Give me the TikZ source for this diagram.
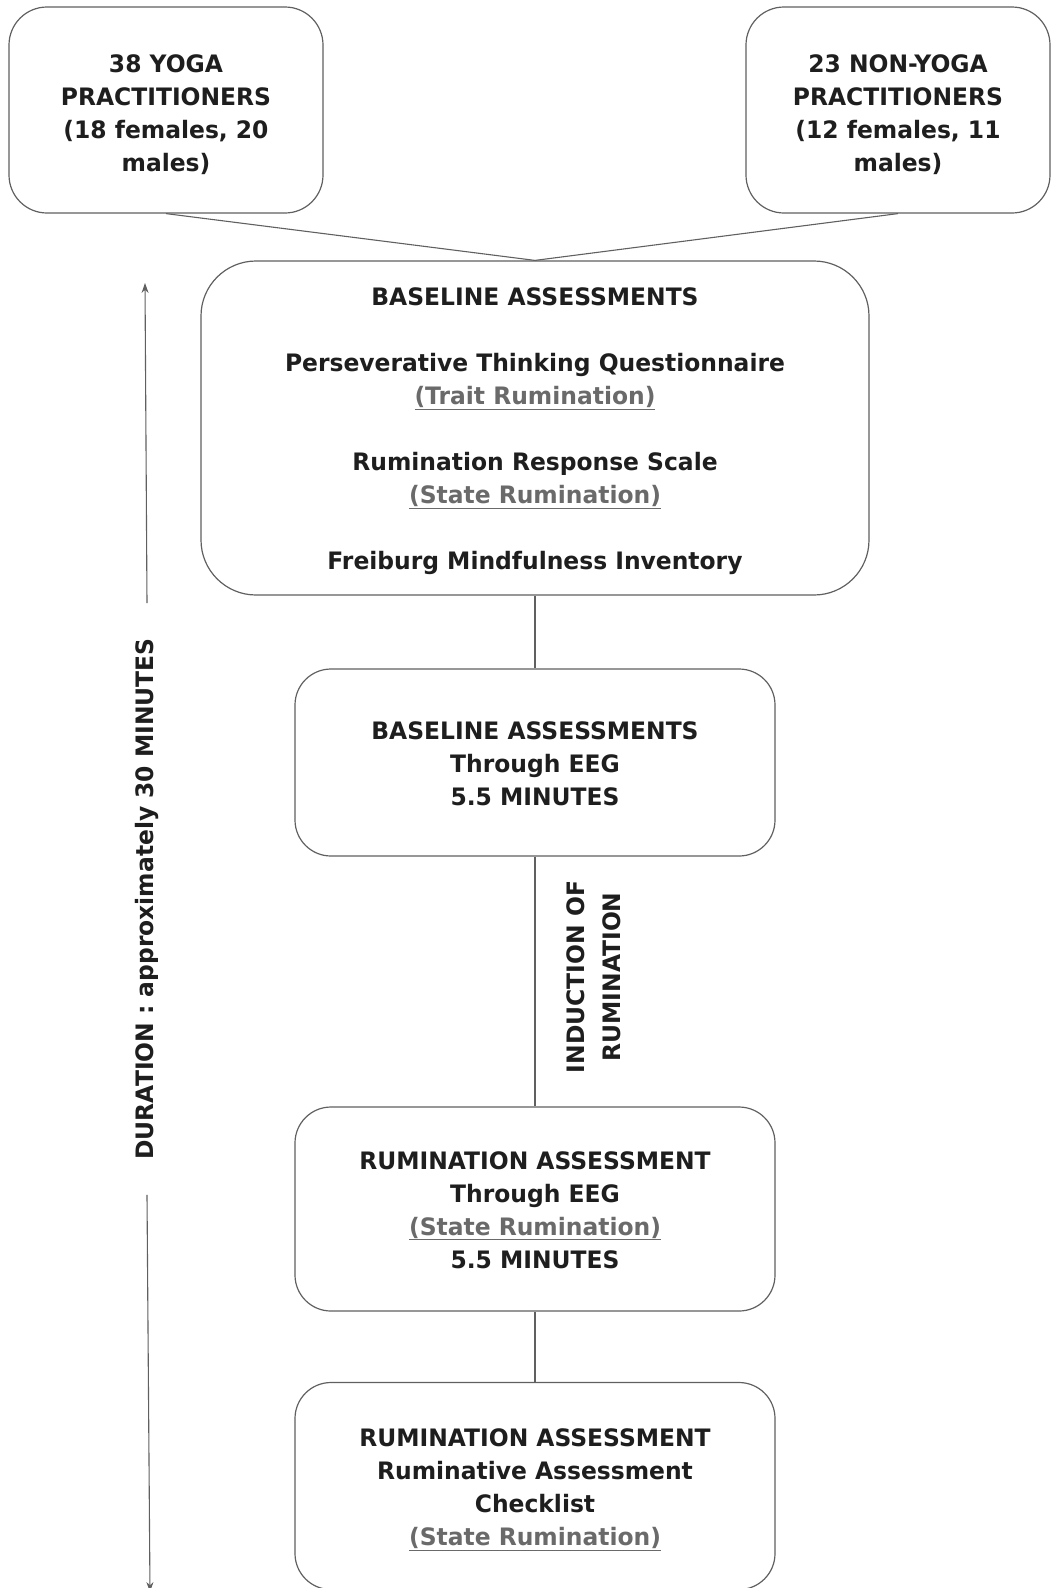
\documentclass[tikz,border=0pt]{standalone}
\usepackage{fontspec}
\setmainfont{DejaVu Sans}[BoldFeatures={FakeStretch=0.975}]
\usepackage{xcolor}
\usetikzlibrary{arrows.meta}
\definecolor{boxline}{HTML}{606060}
\definecolor{inktext}{HTML}{1E1E1E}
\definecolor{greytext}{HTML}{6A6A6A}
\newcommand{\grey}[1]{\textcolor{greytext}{\underline{#1}}}
\newcommand{\topstrut}[1]{\rule{0pt}{#1}}

\begin{document}
\begin{tikzpicture}[x=1pt,y=-1pt,
    flowbox/.style={draw=boxline,line width=1.2pt,rounded corners=36pt,align=center,
      text=inktext,font=\fontsize{24}{33}\selectfont\bfseries,inner sep=0pt},
    link/.style={draw=boxline,line width=1.1pt}]
                    \useasboundingbox (0,0) rectangle (1051,1588);
                    % participant groups
                    \node[flowbox,rounded corners=38pt,minimum width=314pt,minimum height=206pt] (yoga) at (166,110)
                        {\topstrut{27.5pt}38 YOGA\\PRACTITIONERS\\(18 females, 20\\males)};
                    \node[flowbox,rounded corners=38pt,minimum width=304pt,minimum height=206pt] (nonyoga) at (898,110)
                        {\topstrut{27.5pt}23 NON-YOGA\\PRACTITIONERS\\(12 females, 11\\males)};
                    % assessment steps
                    \node[flowbox,rounded corners=55pt,minimum width=668pt,minimum height=334pt] (base) at (535,428)
                        {\topstrut{23.5pt}BASELINE ASSESSMENTS\\[33pt]Perseverative Thinking Questionnaire\\\grey{(Trait Rumination)}\\[33pt]Rumination Response Scale\\\grey{(State Rumination)}\\[33pt]Freiburg Mindfulness Inventory};
                    \node[flowbox,minimum width=480pt,minimum height=187pt] (eeg) at (535,762.5)
                        {\topstrut{20.5pt}BASELINE ASSESSMENTS\\Through EEG\\5.5 MINUTES};
                    \node[flowbox,minimum width=480pt,minimum height=204pt] (rumeeg) at (535,1209)
                        {\topstrut{19.5pt}RUMINATION ASSESSMENT\\Through EEG\\\grey{(State Rumination)}\\5.5 MINUTES};
                    \node[flowbox,minimum width=480pt,minimum height=207pt] (check) at (535,1486)
                        {\topstrut{25.5pt}RUMINATION ASSESSMENT\\Ruminative Assessment\\Checklist\\\grey{(State Rumination)}};
                    % connectors
                    \draw[link] (yoga.south) -- (base.north);
                    \draw[link] (nonyoga.south) -- (base.north);
                    \draw[link] (base.south) -- (eeg.north);
                    \draw[link] (eeg.south) -- (rumeeg.north);
                    \draw[link] (rumeeg.south) -- (check.north);
                    \node[rotate=90,align=center,text=inktext,font=\fontsize{24}{36}\selectfont\bfseries] (induct) at (594,977)
                        {INDUCTION OF\\RUMINATION};
                    % duration
                    \coordinate (durtop) at (145,283);
                    \coordinate (durbot) at (150,1592);
                    \node[rotate=90,text=inktext,font=\fontsize{24}{33}\selectfont\bfseries,inner xsep=35pt] (dur) at (147,899)
                        {DURATION : approximately 30 MINUTES};
                    \draw[link,-{Stealth[length=10pt,width=7pt]}] (dur.east) -- (durtop);
                    \draw[link,-{Stealth[length=10pt,width=7pt]}] (dur.west) -- (durbot);
                \end{tikzpicture}
\end{document}
